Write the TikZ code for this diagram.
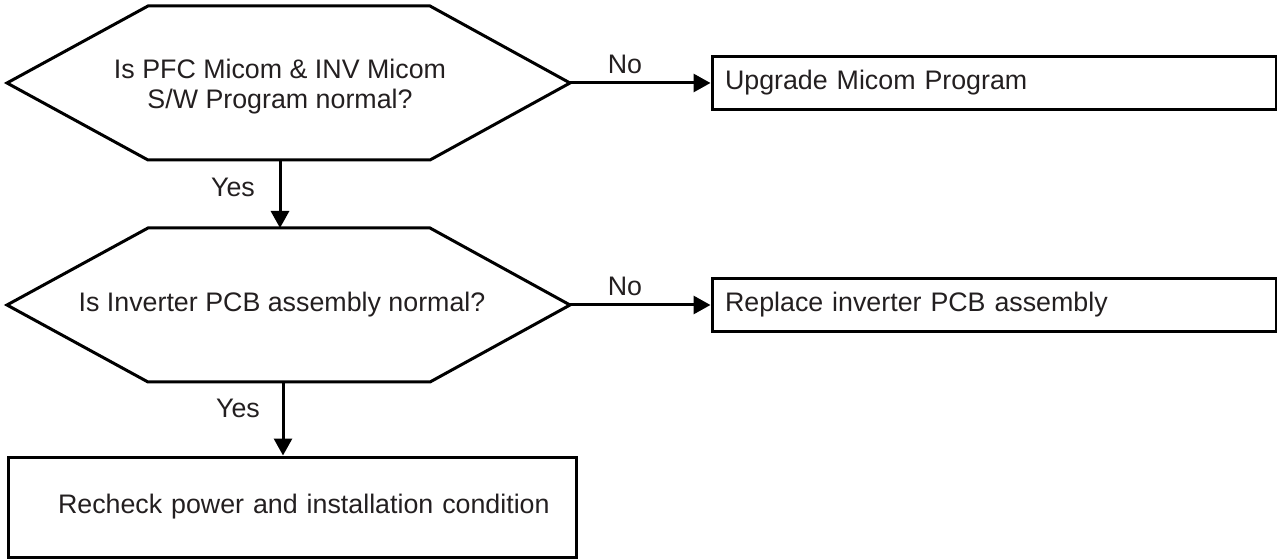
\documentclass[tikz,border=0pt]{standalone}
\usepackage{fontspec}
\setmainfont{Liberation Sans}
\usetikzlibrary{arrows.meta}
\definecolor{txt}{RGB}{35,31,32}
\begin{document}
\begin{tikzpicture}[x=0.5pt,y=-0.5pt,
  line/.style={line width=1.5pt, draw=black, line join=miter},
  arr/.style={line, -{Triangle[length=8.5pt,width=9pt]}},
  lbl/.style={font=\fontsize{13.4}{15}\selectfont, text=txt, inner sep=0pt},
  box/.style={lbl, draw=black, line width=1.5pt, inner ysep=0pt, align=left}]
\useasboundingbox (0,0) rectangle (1277,560);
% decision 1
\draw[line] (7,83) -- (148,6) -- (430,6) -- (570,83) -- (430,160) -- (148,160) -- cycle;
\node[lbl, align=center] (q1) at (280,87) {Is PFC Micom \& INV Micom\\S/W Program normal?};
\coordinate (h1r) at (570,83);
\coordinate (h1b) at (280,160);
% decision 2
\draw[line] (7,305) -- (148,228) -- (430,228) -- (570,305) -- (430,382) -- (148,382) -- cycle;
\node[lbl] (q2) at (282,305) {Is Inverter PCB assembly normal?};
\coordinate (h2t) at (280,228);
\coordinate (h2r) at (570,305);
\coordinate (h2b) at (283,382);
% boxes
\node[box, inner xsep=6.5pt, text width=269pt, minimum height=26.5pt] (b1) at (994,83) {Upgrade Micom Program};
\node[box, inner xsep=6.5pt, text width=269pt, minimum height=26.5pt] (b2) at (994,305) {Replace inverter PCB assembly};
\node[box, inner xsep=0pt, text width=284pt, minimum height=50pt] (b3) at (292,507) {\hspace*{25pt}Recheck power and installation condition};
% connectors
\draw[arr] (h1r) -- (b1.west);
\draw[arr] (h2r) -- (b2.west);
\draw[arr] (h1b) -- (h2t);
\draw[arr] (h2b) -- (h2b |- b3.north);
% labels
\node[lbl] (n1) at (625,64) {No};
\node[lbl] (n2) at (625,286) {No};
\node[lbl] (y1) at (233,187) {Yes};
\node[lbl] (y2) at (238,408) {Yes};
\end{tikzpicture}
\end{document}
